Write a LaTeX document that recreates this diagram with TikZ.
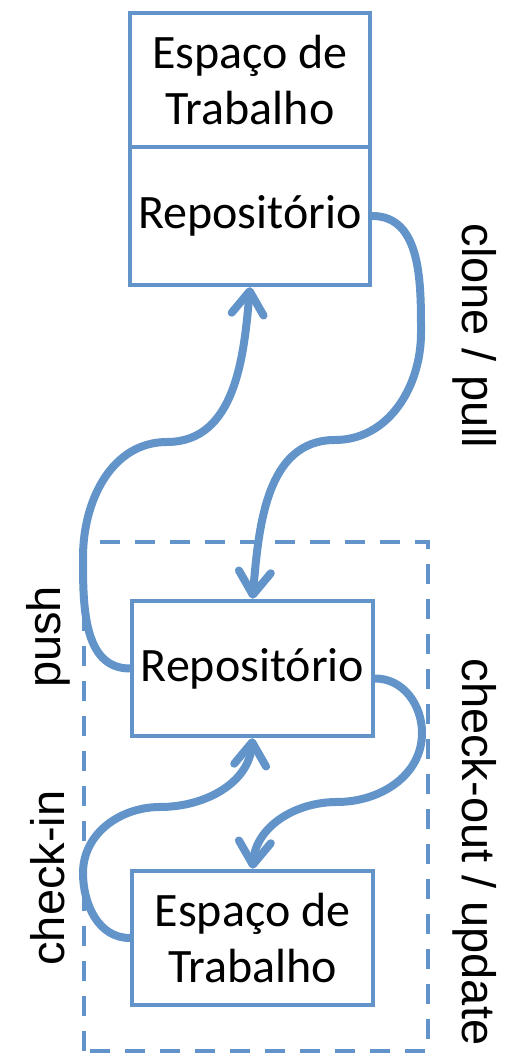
\documentclass[tikz,border=0pt]{standalone}
\usepackage{fontspec}
\setmainfont{Carlito}
\newfontfamily\labelfont{Liberation Sans}
\usetikzlibrary{arrows.meta}
\definecolor{gitblue}{RGB}{98,148,201}

\begin{document}
\begin{tikzpicture}[x=1pt,y=1pt,
    box/.style={draw=gitblue,line width=4.5pt,minimum width=240pt,inner sep=0pt,align=center,font=\fontsize{48}{56}\selectfont},
    flow/.style={draw=gitblue,line width=8pt,line cap=round,-{Straight Barb[length=23pt,width=32pt,round]}},
    lbl/.style={font=\labelfont\fontsize{47}{55}\selectfont}]
    \useasboundingbox (0,0) rectangle (504,1056);
    % remote side
    \node[box,minimum height=134pt] (topws) at (250,976) {Espaço de\\Trabalho};
    \node[box,minimum height=138pt] (toprepo) at (250,840) {Repositório};
    % local side
    \draw[gitblue,line width=4pt,dash pattern=on 20pt off 15pt] (84,5) rectangle (428,514);
    \node[box,minimum width=241pt,minimum height=135pt] (localrepo) at (252.5,387.5) {Repositório};
    \node[box,minimum width=241pt,minimum height=134pt] (localws) at (252.5,118) {Espaço de\\Trabalho};
    % flows
    \draw[flow] (toprepo.east) to[out=0,in=90] (421,723) to[out=-90,in=0] (335,616) to[out=180,in=85] (localrepo.north);
    \draw[flow] (localrepo.west) to[out=180,in=-90] (83,499) to[out=90,in=180] (167,614) to[out=0,in=-95] (toprepo.south);
    \draw[flow] ([yshift=-10pt]localrepo.east) to[out=0,in=90] (422,323) to[out=-90,in=0] (337,254) to[out=180,in=85] (localws.north);
    \draw[flow] (localws.west) to[out=180,in=-90] (83,183) to[out=90,in=180] (160,249) to[out=0,in=-95] (localrepo.south);
    % labels
    \node[lbl,rotate=-90] (clonelbl) at (475,720) {clone / pull};
    \node[lbl,rotate=-90] (checkoutlbl) at (475,204) {check-out / update};
    \node[lbl,rotate=90] (pushlbl) at (48,419) {push};
    \node[lbl,rotate=90] (checkinlbl) at (48,178) {check-in};
\end{tikzpicture}
\end{document}
